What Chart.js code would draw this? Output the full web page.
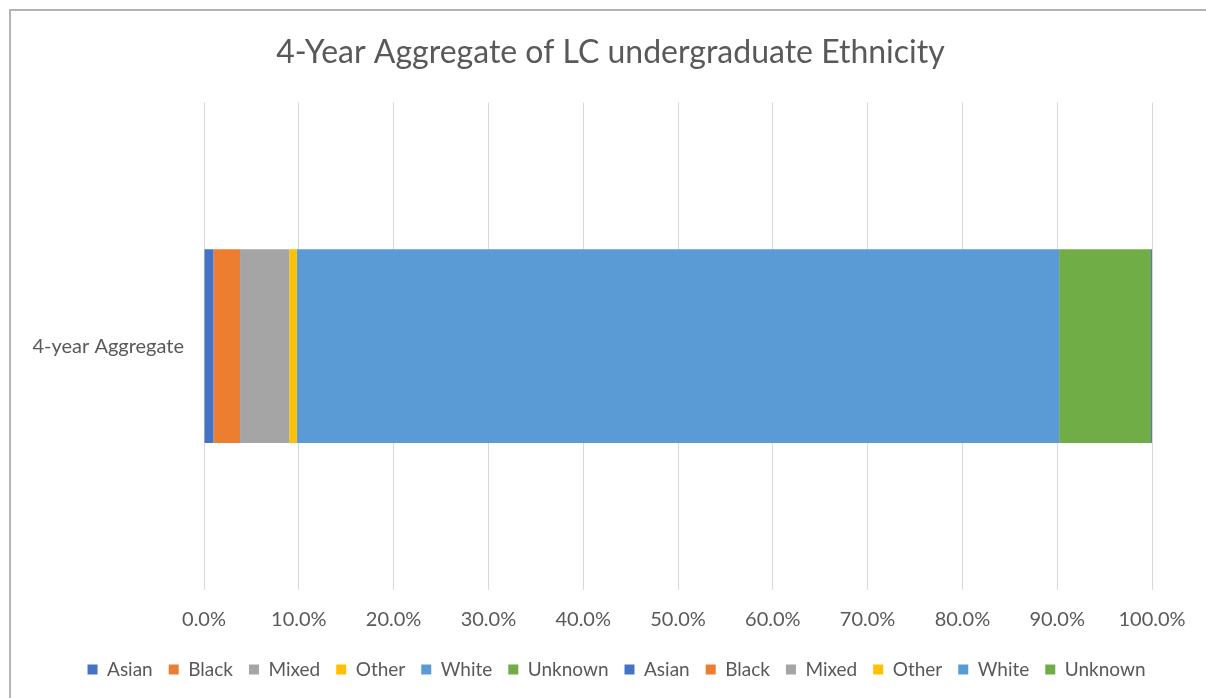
<!DOCTYPE html>
<html>
<head>
<meta charset="utf-8">
<script src="https://cdn.jsdelivr.net/npm/chart.js@4/dist/chart.umd.min.js"></script>
<style>
  html, body { margin: 0; padding: 0; background: #fff; overflow: hidden; }
  .frame {
    position: absolute; left: 9px; top: 9px; width: 1210px; height: 710px;
    border: 2px solid #b4b4b4; box-sizing: border-box;
  }
  #chart { position: absolute; left: 0; top: 0; }
</style>
</head>
<body>
<div class="frame"></div>
<canvas id="chart" width="1206" height="698"></canvas>
<script>
// share of undergraduates by ethnicity, percent of the 4-year total
const categories = ["4-year Aggregate"];
const groups = ["Asian", "Black", "Mixed", "Other", "White", "Unknown"];
const colors = ["#4472C4", "#ED7D31", "#A5A5A5", "#FFC000", "#5B9BD5", "#70AD47"];
const firstSet = [1.0, 2.8, 5.2, 0.8, 80.4, 9.7];
const secondSet = [0.1, 0, 0, 0, 0, 0];
const xTicks = [0, 10, 20, 30, 40, 50, 60, 70, 80, 90, 100];

const textColor = "#595959";
const fontFamily = "Lato, 'Open Sans', sans-serif";

const datasets = [];
[firstSet, secondSet].forEach((values) => {
  groups.forEach((name, i) => {
    datasets.push({
      label: name,
      data: [values[i]],
      backgroundColor: colors[i],
      borderWidth: 0,
      barPercentage: 0.3975,
      categoryPercentage: 1,
    });
  });
});

// title and legend sit a little right of the canvas centre
const nudgeHeader = {
  id: "nudgeHeader",
  afterLayout(chart) {
    if (chart.titleBlock) {
      chart.titleBlock.left += 20;
      chart.titleBlock.right += 20;
    }
    if (chart.legend) {
      chart.legend.left += 26;
      chart.legend.right += 26;
    }
  },
};

const ctx = document.getElementById("chart").getContext("2d");
new Chart(ctx, {
  type: "bar",
  data: { labels: categories, datasets },
  plugins: [nudgeHeader],
  options: {
    indexAxis: "y",
    responsive: false,
    animation: false,
    layout: { padding: { left: 29, right: 54, top: 33, bottom: 9 } },
    scales: {
      x: {
        stacked: true,
        min: 0,
        max: 100,
        afterBuildTicks: (scale) => {
          scale.ticks = xTicks.map((v) => ({ value: v }));
        },
        afterFit: (scale) => { scale.height = 54; },
        ticks: {
          color: textColor,
          font: { family: fontFamily, size: 20 },
          padding: 18,
          maxRotation: 0,
          callback: (v) => v.toFixed(1) + "%",
        },
        grid: { color: "#d9d9d9", drawTicks: false },
        border: { display: false },
      },
      y: {
        stacked: true,
        afterFit: (scale) => { scale.width = 175; },
        ticks: {
          color: textColor,
          font: { family: fontFamily, size: 20 },
          padding: 20,
        },
        grid: { display: false, drawTicks: false },
        border: { display: false },
      },
    },
    plugins: {
      title: {
        display: true,
        text: "4-Year Aggregate of LC undergraduate Ethnicity",
        color: textColor,
        font: { family: fontFamily, size: 32, weight: "normal" },
        padding: { top: 0, bottom: 31 },
      },
      legend: {
        position: "bottom",
        labels: {
          color: textColor,
          font: { family: fontFamily, size: 19 },
          boxWidth: 10,
          boxHeight: 10,
          padding: 16,
        },
      },
      tooltip: { enabled: false },
    },
  },
});
</script>
</body>
</html>
